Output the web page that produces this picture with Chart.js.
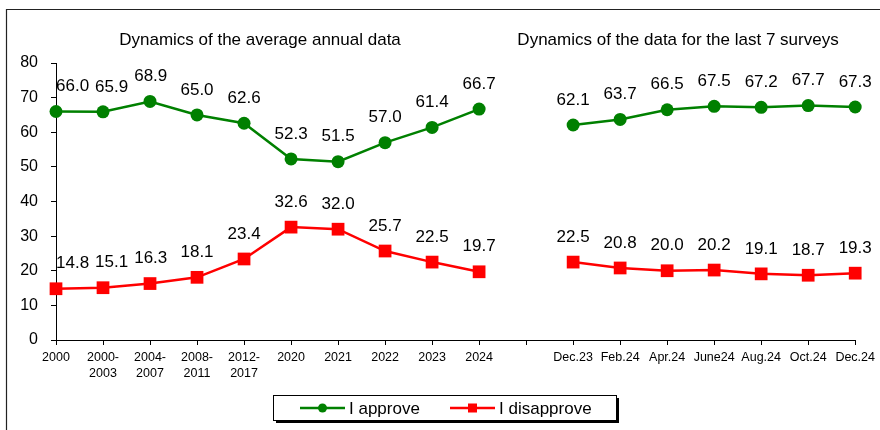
<!DOCTYPE html>
<html>
<head>
<meta charset="utf-8">
<script src="https://cdn.jsdelivr.net/npm/chart.js@4/dist/chart.umd.min.js"></script>
<style>
  html, body { margin: 0; padding: 0; background: #ffffff; }
  #wrap { width: 880px; height: 430px; position: relative; }
</style>
</head>
<body>
<div id="wrap"><canvas id="c" width="880" height="430"></canvas></div>
<script>
// ---- data ----
const categories = ['2000', ['2000-', '2003'], ['2004-', '2007'], ['2008-', '2011'], ['2012-', '2017'],
  '2020', '2021', '2022', '2023', '2024', '',
  'Dec.23', 'Feb.24', 'Apr.24', 'June24', 'Aug.24', 'Oct.24', 'Dec.24'];
const approve    = [66.0, 65.9, 68.9, 65.0, 62.6, 52.3, 51.5, 57.0, 61.4, 66.7, null, 62.1, 63.7, 66.5, 67.5, 67.2, 67.7, 67.3];
const disapprove = [14.8, 15.1, 16.3, 18.1, 23.4, 32.6, 32.0, 25.7, 22.5, 19.7, null, 22.5, 20.8, 20.0, 20.2, 19.1, 18.7, 19.3];
const seriesNames = ['I approve', 'I disapprove'];
const panelTitles = ['Dynamics of the average annual data', 'Dynamics of the data for the last 7 surveys'];
const yMin = 0, yMax = 80, yStep = 10;

const FONT = "'Liberation Sans', Arial, sans-serif";
const GREEN = '#008000';
const RED = '#ff0000';

const decorPlugin = {
  id: 'decor',
  beforeDraw(chart) {
    const ctx = chart.ctx;
    ctx.save();
    ctx.fillStyle = '#ffffff';
    ctx.fillRect(0, 0, chart.width, chart.height);
    // outer frame (left + top visible)
    ctx.strokeStyle = '#222';
    ctx.lineWidth = 1.2;
    ctx.beginPath();
    ctx.moveTo(6.5, chart.height);
    ctx.lineTo(6.5, 9.5);
    ctx.lineTo(chart.width, 9.5);
    ctx.stroke();
    // panel titles
    ctx.fillStyle = '#000';
    ctx.font = '17px ' + FONT;
    ctx.textAlign = 'center';
    ctx.textBaseline = 'alphabetic';
    ctx.fillText(panelTitles[0], 260, 45);
    ctx.fillText(panelTitles[1], 678, 45);
    ctx.restore();
  },
  afterDatasetsDraw(chart) {
    const ctx = chart.ctx;
    const area = chart.chartArea;
    ctx.save();
    ctx.fillStyle = '#000';
    ctx.font = '17px ' + FONT;
    ctx.textBaseline = 'middle';
    ctx.textAlign = 'center';
    chart.data.datasets.forEach((ds, di) => {
      const meta = chart.getDatasetMeta(di);
      let prev = null;
      meta.data.forEach((pt, i) => {
        const v = ds.data[i];
        if (v === null || v === undefined) { prev = null; return; }
        const txt = v.toFixed(1);
        const w = ctx.measureText(txt).width;
        let x = pt.x;
        const y = pt.y - 25;
        if (x - w / 2 < area.left) x = area.left + w / 2;
        if (prev && Math.abs(prev.y - y) < 12 && x - w / 2 < prev.right + 6) {
          x = prev.right + 6 + w / 2;
        }
        ctx.fillText(txt, x, y);
        prev = { right: x + w / 2, y: y };
      });
    });
    ctx.restore();
  },
  afterDraw(chart) {
    const ctx = chart.ctx;
    ctx.save();
    // legend box with shadow
    const bx = 273.5, by = 395.5, bw = 343, bh = 25;
    ctx.fillStyle = '#000';
    ctx.fillRect(bx + 2.5, by + 2.5, bw, bh);
    ctx.fillStyle = '#fff';
    ctx.fillRect(bx, by, bw, bh);
    ctx.strokeStyle = '#000';
    ctx.lineWidth = 1;
    ctx.strokeRect(bx, by, bw, bh);
    const cy = by + bh / 2;
    const items = [
      { x0: 300, ds: chart.data.datasets[0], shape: 'circle' },
      { x0: 450, ds: chart.data.datasets[1], shape: 'rect' }
    ];
    ctx.font = '17px ' + FONT;
    ctx.textBaseline = 'middle';
    ctx.textAlign = 'left';
    items.forEach(it => {
      ctx.strokeStyle = it.ds.borderColor;
      ctx.lineWidth = 2.5;
      ctx.beginPath();
      ctx.moveTo(it.x0, cy);
      ctx.lineTo(it.x0 + 45, cy);
      ctx.stroke();
      ctx.fillStyle = it.ds.borderColor;
      if (it.shape === 'circle') {
        ctx.beginPath();
        ctx.arc(it.x0 + 22.5, cy, 4.5, 0, Math.PI * 2);
        ctx.fill();
      } else {
        ctx.fillRect(it.x0 + 22.5 - 4.5, cy - 4.5, 9, 9);
      }
      ctx.fillStyle = '#000';
      ctx.fillText(it.ds.label, it.x0 + 49, cy + 1);
    });
    ctx.restore();
  }
};

new Chart(document.getElementById('c'), {
  type: 'line',
  data: {
    labels: categories,
    datasets: [
      {
        label: seriesNames[0],
        data: approve,
        borderColor: GREEN,
        backgroundColor: GREEN,
        borderWidth: 2.5,
        pointStyle: 'circle',
        pointRadius: 6.5,
        pointHoverRadius: 6.5,
        pointBorderWidth: 0,
        spanGaps: false,
        tension: 0,
        clip: false
      },
      {
        label: seriesNames[1],
        data: disapprove,
        borderColor: RED,
        backgroundColor: RED,
        borderWidth: 2.5,
        pointStyle: 'rect',
        pointRadius: 9,
        pointHoverRadius: 9,
        pointBorderWidth: 0,
        spanGaps: false,
        tension: 0,
        clip: false
      }
    ]
  },
  options: {
    responsive: false,
    animation: false,
    events: [],
    layout: { padding: { left: 0, right: 22, top: 63, bottom: 31 } },
    plugins: {
      legend: { display: false },
      title: { display: false },
      tooltip: { enabled: false }
    },
    scales: {
      x: {
        offset: false,
        grid: {
          display: true,
          drawOnChartArea: false,
          drawTicks: true,
          tickLength: 5,
          color: '#000',
          lineWidth: 1
        },
        border: { display: true, color: '#000', width: 1 },
        ticks: {
          color: '#000',
          font: { family: FONT, size: 12.5, lineHeight: 1.28 },
          padding: 5,
          maxRotation: 0,
          minRotation: 0,
          autoSkip: false
        },
        afterFit(scale) { scale.height = 59; }
      },
      y: {
        min: yMin,
        max: yMax,
        grid: {
          display: true,
          drawOnChartArea: false,
          drawTicks: true,
          tickLength: 5,
          color: '#000',
          lineWidth: 1
        },
        border: { display: true, color: '#000', width: 1 },
        ticks: {
          stepSize: yStep,
          color: '#000',
          font: { family: FONT, size: 16 },
          padding: 13
        },
        afterFit(scale) { scale.width = 56; }
      }
    }
  },
  plugins: [decorPlugin]
});
</script>
</body>
</html>
